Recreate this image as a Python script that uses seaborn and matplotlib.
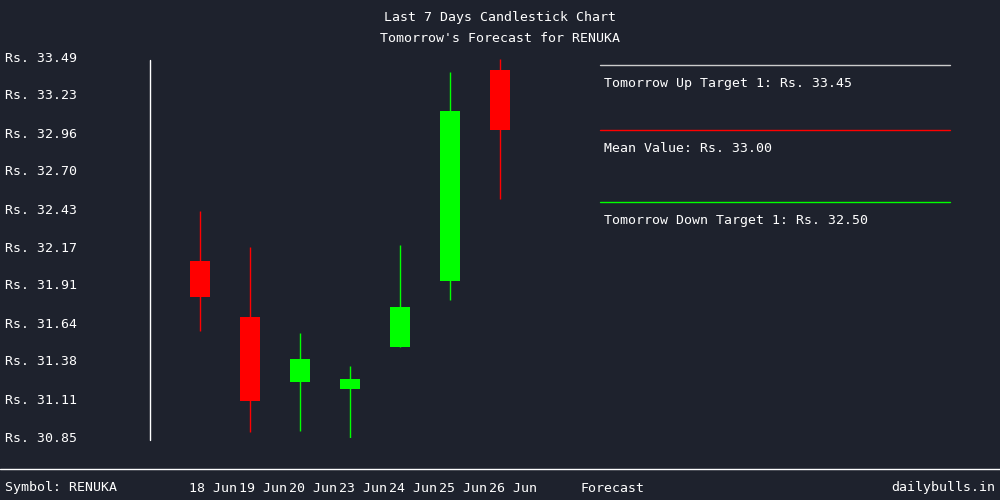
import matplotlib
matplotlib.use("Agg")
import matplotlib.pyplot as plt
import matplotlib.transforms as mtrans
import seaborn as sns

# === DATA ===
dates = ["18 Jun", "19 Jun", "20 Jun", "23 Jun", "24 Jun", "25 Jun", "26 Jun"]
opens = [32.08, 31.69, 31.24, 31.19, 31.48, 31.94, 33.41]
closes = [31.83, 31.11, 31.40, 31.26, 31.76, 33.12, 32.99]
highs = [32.43, 32.18, 31.58, 31.35, 32.19, 33.39, 33.48]
lows = [31.59, 30.89, 30.90, 30.84, 31.48, 31.81, 32.51]
ytick_vals = [30.85, 31.11, 31.38, 31.64, 31.91, 32.17, 32.43, 32.70, 32.96, 33.23, 33.49]
symbol = "RENUKA"
up_target = 33.45
mean_val = 33.00
down_target = 32.50

BG = "#1e222d"
sns.set_style("dark")
plt.rcParams["font.family"] = ["DejaVu Sans Mono"]
FS = 9.5

fig = plt.figure(figsize=(10, 5), dpi=100, facecolor=BG)
ax = fig.add_axes([0.15, 0.124, 0.41, 0.76], facecolor=BG)
ax.set_xlim(-1, 7.2)
ax.set_ylim(30.85, 33.49)
for s in ax.spines.values():
    s.set_visible(False)
ax.set_xticks([])
ax.set_yticks([])
ax.grid(False)

for i in range(len(dates)):
    col = "#00ff00" if closes[i] >= opens[i] else "#ff0000"
    ax.vlines(i, lows[i], highs[i], color=col, lw=1)
    lo, hi = min(opens[i], closes[i]), max(opens[i], closes[i])
    ax.bar(i, hi - lo, bottom=lo, width=0.4, color=col, edgecolor=col, linewidth=0)

# left axis line
fig.add_artist(plt.Line2D([0.15, 0.15], [0.12, 0.88], color="white", lw=1))

# y labels
ytr = mtrans.blended_transform_factory(fig.transFigure, ax.transData)
for v in ytick_vals:
    fig.text(0.005, v, f"Rs. {v:.2f}", transform=ytr, color="white",
             fontsize=FS, va="center", ha="left")

# titles
fig.text(0.5, 0.964, "Last 7 Days Candlestick Chart", color="white", fontsize=FS, ha="center", va="center")
fig.text(0.5, 0.924, "Tomorrow's Forecast for RENUKA", color="white", fontsize=FS, ha="center", va="center")

# forecast panel
panel = [(0.87, "#cccccc", f"Tomorrow Up Target 1: Rs. {up_target:.2f}"),
         (0.74, "#ff0000", f"Mean Value: Rs. {mean_val:.2f}"),
         (0.596, "#00ff00", f"Tomorrow Down Target 1: Rs. {down_target:.2f}")]
for y, c, t in panel:
    fig.add_artist(plt.Line2D([0.6, 0.95], [y, y], color=c, lw=1))
    fig.text(0.604, y - 0.036, t, color="white", fontsize=FS, va="center", ha="left")

# footer
fig.add_artist(plt.Line2D([0, 1], [0.062, 0.062], color="white", lw=1))
xtr = mtrans.blended_transform_factory(ax.transData, fig.transFigure)
for i, d in enumerate(dates):
    fig.text(i + 0.26, 0.024, d, transform=xtr, color="white", fontsize=FS, ha="center", va="center")
fig.text(0.005, 0.024, f"Symbol: {symbol}", color="white", fontsize=FS, va="center", ha="left")
fig.text(0.612, 0.024, "Forecast", color="white", fontsize=FS, va="center", ha="center")
fig.text(0.995, 0.024, "dailybulls.in", color="white", fontsize=FS, va="center", ha="right")

fig.savefig("out.png", dpi=100, facecolor=BG)
